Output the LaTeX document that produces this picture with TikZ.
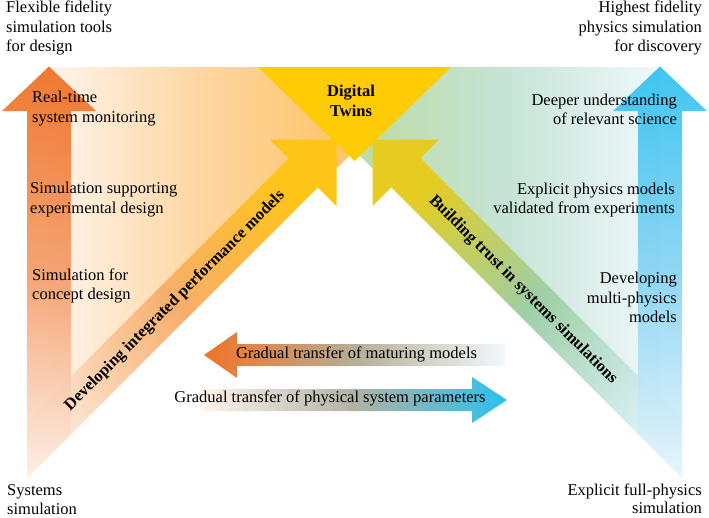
\documentclass[tikz,border=0pt]{standalone}
\usepackage{fontspec}
\setmainfont{Liberation Serif}

\definecolor{sysorange}{HTML}{EE6E20}
\definecolor{sysorangemid}{HTML}{F49C68}
\definecolor{sysorangelow}{HTML}{FFF1E8}
\definecolor{physblue}{HTML}{30C1F0}
\definecolor{physbluemid}{HTML}{86D3F2}
\definecolor{physbluelow}{HTML}{EAF6FC}
\definecolor{twinyellow}{HTML}{FFCB05}
\definecolor{perfgold}{HTML}{FFC418}
\definecolor{perfmid}{HTML}{F7AE6C}
\definecolor{perflow}{HTML}{FCE4D0}
\definecolor{trustyellow}{HTML}{E6CC20}
\definecolor{trustmid}{HTML}{9ECFA6}
\definecolor{trustlow}{HTML}{D8EFF4}
\definecolor{bgleftA}{HTML}{FFF4EC}
\definecolor{bgleftB}{HTML}{FDD6A0}
\definecolor{bgleftC}{HTML}{FDC468}
\definecolor{bgrightA}{HTML}{BCDCA2}
\definecolor{bgrightB}{HTML}{C6E4D6}
\definecolor{bgrightC}{HTML}{F0F8FC}
\definecolor{xferorange}{HTML}{F07428}
\definecolor{xfermid}{HTML}{B5AE96}
\definecolor{xferpale}{HTML}{F2FAFC}
\definecolor{xferpeach}{HTML}{FFF5EE}
\definecolor{xfermidB}{HTML}{B2B2A4}
\definecolor{xferblue}{HTML}{2CC0EE}

\begin{document}
\begin{tikzpicture}[x=1pt, y=-1pt,
    txt/.style={inner sep=0pt, font=\fontsize{16.5}{19.5}\selectfont},
    boldtxt/.style={inner sep=0pt, font=\fontsize{16.5}{19.5}\selectfont\bfseries}]
  \useasboundingbox (0,0) rectangle (709,517);

  % backgrounds of the two wings
  \shade[left color=bgleftA, right color=bgleftC, middle color=bgleftB]
    (49,67) -- (354.5,67) -- (354.5,150.5) -- (49,456) -- cycle;
  \shade[left color=bgrightA, right color=bgrightC, middle color=bgrightB]
    (354.5,67) -- (660,67) -- (660,456) -- (354.5,150.5) -- cycle;

  % diagonal arrows
  \shade[top color=perfgold, bottom color=perflow, middle color=perfmid, shading angle=-45]
    (27,420) -- (288.75,158.25) -- (270,139.5) -- (336.5,139.5) -- (336.5,206)
    -- (317.75,187.25) -- (27,478) -- cycle;
  \shade[top color=trustyellow, bottom color=trustlow, middle color=trustmid, shading angle=45]
    (682,420) -- (420.25,158.25) -- (439,139.5) -- (372.5,139.5) -- (372.5,206)
    -- (391.25,187.25) -- (682,478) -- cycle;

  % vertical arrows
  \shade[top color=sysorange, bottom color=sysorangelow, middle color=sysorangemid, fill opacity=0.92]
    (27,478) -- (27,111) -- (2,111) -- (49,66.5) -- (96,111) -- (71,111) -- (71,434) -- cycle;
  \shade[top color=physblue, bottom color=physbluelow, middle color=physbluemid, fill opacity=0.92]
    (682,478) -- (682,111) -- (707,111) -- (660,66.5) -- (613,111) -- (638,111) -- (638,434) -- cycle;

  % digital twins
  \fill[twinyellow] (258,67) -- (451,67) -- (354.5,161) -- cycle;

  % transfer arrows
  \shade[left color=xferorange, right color=xferpale, middle color=xfermid]
    (505,344) -- (237,344) -- (237,332) -- (204,355) -- (237,378) -- (237,366) -- (505,366) -- cycle;
  \shade[left color=xferpeach, right color=xferblue, middle color=xfermidB]
    (200,389) -- (472,389) -- (472,377) -- (507,400) -- (472,423) -- (472,411) -- (200,411) -- cycle;

  % labels
  \node[txt, align=left, anchor=north west] (flex) at (6,1) {Flexible fidelity\\simulation tools\\for design};
  \node[txt, align=right, anchor=north east] (highest) at (702,1) {Highest fidelity\\physics simulation\\for discovery};
  \node[txt, align=left, anchor=north west, font=\fontsize{16.5}{18.5}\selectfont] (systems) at (7,484.5) {Systems\\simulation};
  \node[txt, align=right, anchor=north east, font=\fontsize{16.5}{18.5}\selectfont] (fullphys) at (702,483.5) {Explicit full-physics\\simulation};
  \node[txt, align=left, anchor=north west] (realtime) at (32,91) {Real-time\\system monitoring};
  \node[txt, align=left, anchor=north west] (expdesign) at (30,182) {Simulation supporting\\experimental design};
  \node[txt, align=left, anchor=north west] (concept) at (32,268.5) {Simulation for\\concept design};
  \node[txt, align=right, anchor=north east] (deeper) at (677,93.5) {Deeper understanding\\of relevant science};
  \node[txt, align=right, anchor=north east] (explicit) at (675,182.5) {Explicit physics models\\validated from experiments};
  \node[txt, align=right, anchor=north east] (multiphys) at (677,272) {Developing\\multi-physics\\models};
  \node[boldtxt, align=center, anchor=north] (twins) at (351,85) {Digital\\Twins};
  \node[boldtxt, rotate=45] (perf) at (175,301) {Developing integrated performance models};
  \node[boldtxt, rotate=-45] (trust) at (523,290) {Building trust in systems simulations};
  \node[txt, anchor=base] (maturing) at (356.5,358.3) {Gradual transfer of maturing models};
  \node[txt, anchor=base] (params) at (330,402.5) {Gradual transfer of physical system parameters};
\end{tikzpicture}
\end{document}
